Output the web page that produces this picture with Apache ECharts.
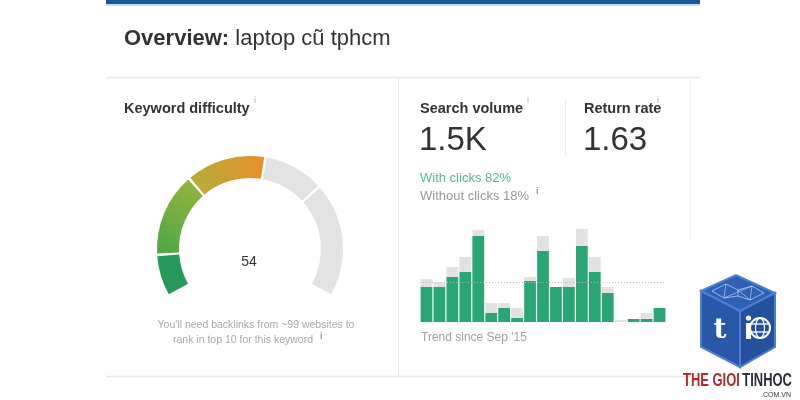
<!DOCTYPE html>
<html><head><meta charset="utf-8">
<script src="https://cdn.jsdelivr.net/npm/echarts@6/dist/echarts.min.js"></script>
<style>html,body{margin:0;padding:0;background:#fff}#c{width:800px;height:400px}</style>
</head><body><div id="c"></div>
<script>
// ---- data ----
const keywordDifficulty = 54;
const kdBands = [0, 11, 33, 70, 100];          // band boundaries of the gauge
const trendMonths = ['Sep 15','Oct 15','Nov 15','Dec 15','Jan 16','Feb 16','Mar 16','Apr 16','May 16','Jun 16','Jul 16','Aug 16','Sep 16','Oct 16','Nov 16','Dec 16','Jan 17','Feb 17','Mar 17'];
const withClicks    = [35, 35, 45, 50, 86, 9, 14, 4, 41, 71, 35, 35, 76, 50, 29, 0, 3, 3, 14];
const withoutClicks = [8, 5, 10, 15, 6, 10, 5, 10, 4, 15, 0, 9, 17, 15, 6, 2, 0, 6, 0];
const trendAverage = 40;
const searchVolume = '1.5K';
const returnRate = '1.63';
const clicksPct = 82;
const noClicksPct = 18;

// gauge slices: band segments, split at the value
const cuts = [...kdBands, keywordDifficulty].sort((a,b)=>a-b).filter((v,i,a)=>a.indexOf(v)===i);
const G = (c0, c1, x0, y0, x1, y1) => new echarts.graphic.LinearGradient(x0, y0, x1, y1, [{offset:0,color:c0},{offset:1,color:c1}]);
const sliceColors = [
  '#27995a',
  G('#4ea744', '#96b63d', 0, 1, 1, 0),
  G('#b2ae3a', '#e98f2c', 0, 0, 1, 0),
  '#e3e3e3',
  '#e3e3e3'
];
const gaugeData = [];
for (let i = 0; i < cuts.length - 1; i++) {
  gaugeData.push({ value: cuts[i+1] - cuts[i], itemStyle: { color: sliceColors[i] } });
}

const FONT = '"Liberation Sans", Arial, sans-serif';
const lineC = '#e8e8e8';
const LOGOFONT = 'bold 18px "Liberation Sans", Arial, sans-serif';

const chart = echarts.init(document.getElementById('c'), null, {renderer: 'canvas'});
chart.setOption({
  animation: false,
  textStyle: { fontFamily: FONT },
  grid: { left: 420, right: 134, top: 222, bottom: 78 },
  xAxis: { type: 'category', data: trendMonths, show: false },
  yAxis: { type: 'value', min: 0, max: 100, show: false },
  series: [
    {
      type: 'pie', silent: true, center: [250, 249], radius: [71, 93],
      startAngle: 210, endAngle: -30, padAngle: 1.6, clockwise: true,
      label: { show: false }, labelLine: { show: false },
      data: gaugeData
    },
    {
      name: 'With clicks', type: 'bar', stack: 't', z: 3, data: withClicks,
      barCategoryGap: '9%', itemStyle: { color: '#2aa675' }, silent: true
    },
    {
      name: 'Without clicks', type: 'bar', stack: 't', z: 1, data: withoutClicks,
      barCategoryGap: '9%', itemStyle: { color: '#e2e2e2' }, silent: true
    },
    {
      type: 'line', data: [], z: 2, silent: true,
      markLine: { symbol: 'none', silent: true, label: { show: false },
        lineStyle: { color: '#b8b8b8', type: [1, 2], width: 1 },
        data: [{ yAxis: trendAverage }] }
    }
  ],
  graphic: [
    // top bar
    { type: 'rect', shape: { x: 106, y: 0, width: 594, height: 4 }, style: { fill: '#1b5596' } },
    { type: 'rect', shape: { x: 106, y: 4, width: 594, height: 2 }, style: { fill: '#bfdff2' } },
    // title
    { type: 'text', left: 124, top: 28, style: { text: '{b|Overview:} laptop cũ tphcm', font: '22px ' + FONT, fill: '#333',
      rich: { b: { font: 'bold 22px ' + FONT, fill: '#333' } } } },
    // panel lines
    { type: 'line', shape: { x1: 106, y1: 77.5, x2: 700, y2: 77.5 }, style: { stroke: lineC, lineWidth: 1.5 } },
    { type: 'line', shape: { x1: 398.5, y1: 77, x2: 398.5, y2: 376 }, style: { stroke: lineC, lineWidth: 1 } },
    { type: 'line', shape: { x1: 106, y1: 376.5, x2: 690, y2: 376.5 }, style: { stroke: lineC, lineWidth: 1.5 } },
    { type: 'line', shape: { x1: 690.5, y1: 77, x2: 690.5, y2: 240 }, style: { stroke: '#f0f0f0', lineWidth: 1 } },
    { type: 'line', shape: { x1: 565.5, y1: 98, x2: 565.5, y2: 155 }, style: { stroke: '#ececec', lineWidth: 1 } },
    // left panel
    { type: 'text', left: 124, top: 101, style: { text: 'Keyword difficulty', font: 'bold 14.5px ' + FONT, fill: '#333' } },
    { type: 'text', left: 254, top: 96, style: { text: 'i', font: '9px ' + FONT, fill: '#aaa' } },
    { type: 'text', x: 249, y: 262, style: { text: String(keywordDifficulty), font: '14px ' + FONT, fill: '#333', align: 'center', verticalAlign: 'middle' } },
    { type: 'text', x: 256, y: 325, style: { text: "You'll need backlinks from ~99 websites to", font: '10.5px ' + FONT, fill: '#a8a8a8', align: 'center', verticalAlign: 'middle' } },
    { type: 'text', x: 243, y: 340, style: { text: 'rank in top 10 for this keyword', font: '10.5px ' + FONT, fill: '#a8a8a8', align: 'center', verticalAlign: 'middle' } },
    { type: 'text', x: 320, y: 337, style: { text: 'i', font: 'bold 9px ' + FONT, fill: '#999', verticalAlign: 'middle' } },
    // right panel
    { type: 'text', left: 420, top: 101, style: { text: 'Search volume', font: 'bold 14.5px ' + FONT, fill: '#333' } },
    { type: 'text', left: 527, top: 96, style: { text: 'i', font: '9px ' + FONT, fill: '#aaa' } },
    { type: 'text', left: 584, top: 101, style: { text: 'Return rate', font: 'bold 14.5px ' + FONT, fill: '#333' } },
    { type: 'text', left: 657, top: 96, style: { text: 'i', font: '9px ' + FONT, fill: '#aaa' } },
    { type: 'text', x: 419, y: 141, style: { text: searchVolume, font: '33px ' + FONT, fill: '#333', verticalAlign: 'middle' } },
    { type: 'text', x: 583, y: 141, style: { text: returnRate, font: '33px ' + FONT, fill: '#333', verticalAlign: 'middle' } },
    { type: 'text', x: 420, y: 178, style: { text: 'With clicks ' + clicksPct + '%', font: '13px ' + FONT, fill: '#4dbb93', verticalAlign: 'middle' } },
    { type: 'text', x: 420, y: 196, style: { text: 'Without clicks ' + noClicksPct + '%', font: '13px ' + FONT, fill: '#999', verticalAlign: 'middle' } },
    { type: 'text', x: 536, y: 192, style: { text: 'i', font: 'bold 9px ' + FONT, fill: '#999', verticalAlign: 'middle' } },
    { type: 'text', x: 421, y: 338, style: { text: "Trend since Sep '15", font: '12px ' + FONT, fill: '#a0a0a0', verticalAlign: 'middle' } },
    // logo
    { type: 'group', children: [
      { type: 'polygon', shape: { points: [[701,291],[736,275],[775,293],[740,311]] }, style: { fill: '#2f60b4', stroke: '#4b7fd2', lineWidth: 2 } },
      { type: 'polygon', shape: { points: [[701,291],[740,311],[740,367],[701,347]] }, style: { fill: '#2a58a8', stroke: '#4b7fd2', lineWidth: 2 } },
      { type: 'polygon', shape: { points: [[740,311],[775,293],[775,347],[740,367]] }, style: { fill: '#24509c', stroke: '#4b7fd2', lineWidth: 2 } },
      { type: 'polyline', shape: { points: [[712,291],[726,284],[738,290],[752,286],[764,293],[750,300],[738,296],[724,298],[712,291]] }, style: { stroke: '#c9dcff', lineWidth: 0.7, fill: null } },
      { type: 'polyline', shape: { points: [[726,284],[724,298],[752,286],[750,300],[738,290],[738,296]] }, style: { stroke: '#c9dcff', lineWidth: 0.6, fill: null } },
      { type: 'text', x: 720, y: 331, style: { text: 't', font: 'bold 28px "DejaVu Serif", serif', fill: '#fff', align: 'center', verticalAlign: 'middle' } },
      { type: 'circle', shape: { cx: 760, cy: 328, r: 10 }, style: { fill: 'none', stroke: '#fff', lineWidth: 2 } },
      { type: 'ellipse', shape: { cx: 760, cy: 328, rx: 4.5, ry: 10 }, style: { fill: 'none', stroke: '#fff', lineWidth: 1.3 } },
      { type: 'line', shape: { x1: 750, y1: 324, x2: 770, y2: 324 }, style: { stroke: '#fff', lineWidth: 1.3 } },
      { type: 'line', shape: { x1: 750, y1: 332, x2: 770, y2: 332 }, style: { stroke: '#fff', lineWidth: 1.3 } },
      { type: 'rect', shape: { x: 746, y: 323, width: 5, height: 16 }, style: { fill: '#fff' } },
      { type: 'circle', shape: { cx: 748.5, cy: 318, r: 2.6 }, style: { fill: '#fff' } },
      { type: 'text', x: 683, y: 381, scaleX: 0.72,
        style: { text: '{r|THE GIOI} {d|TINHOC}', verticalAlign: 'middle',
        rich: { r: { font: LOGOFONT, fill: '#b8272d' }, d: { font: LOGOFONT, fill: '#2b2d3d' } } } },
      { type: 'text', x: 791, y: 395, style: { text: '.COM.VN', font: '7px ' + FONT, fill: '#333', align: 'right', verticalAlign: 'middle' } }
    ] }
  ]
});
</script></body></html>
